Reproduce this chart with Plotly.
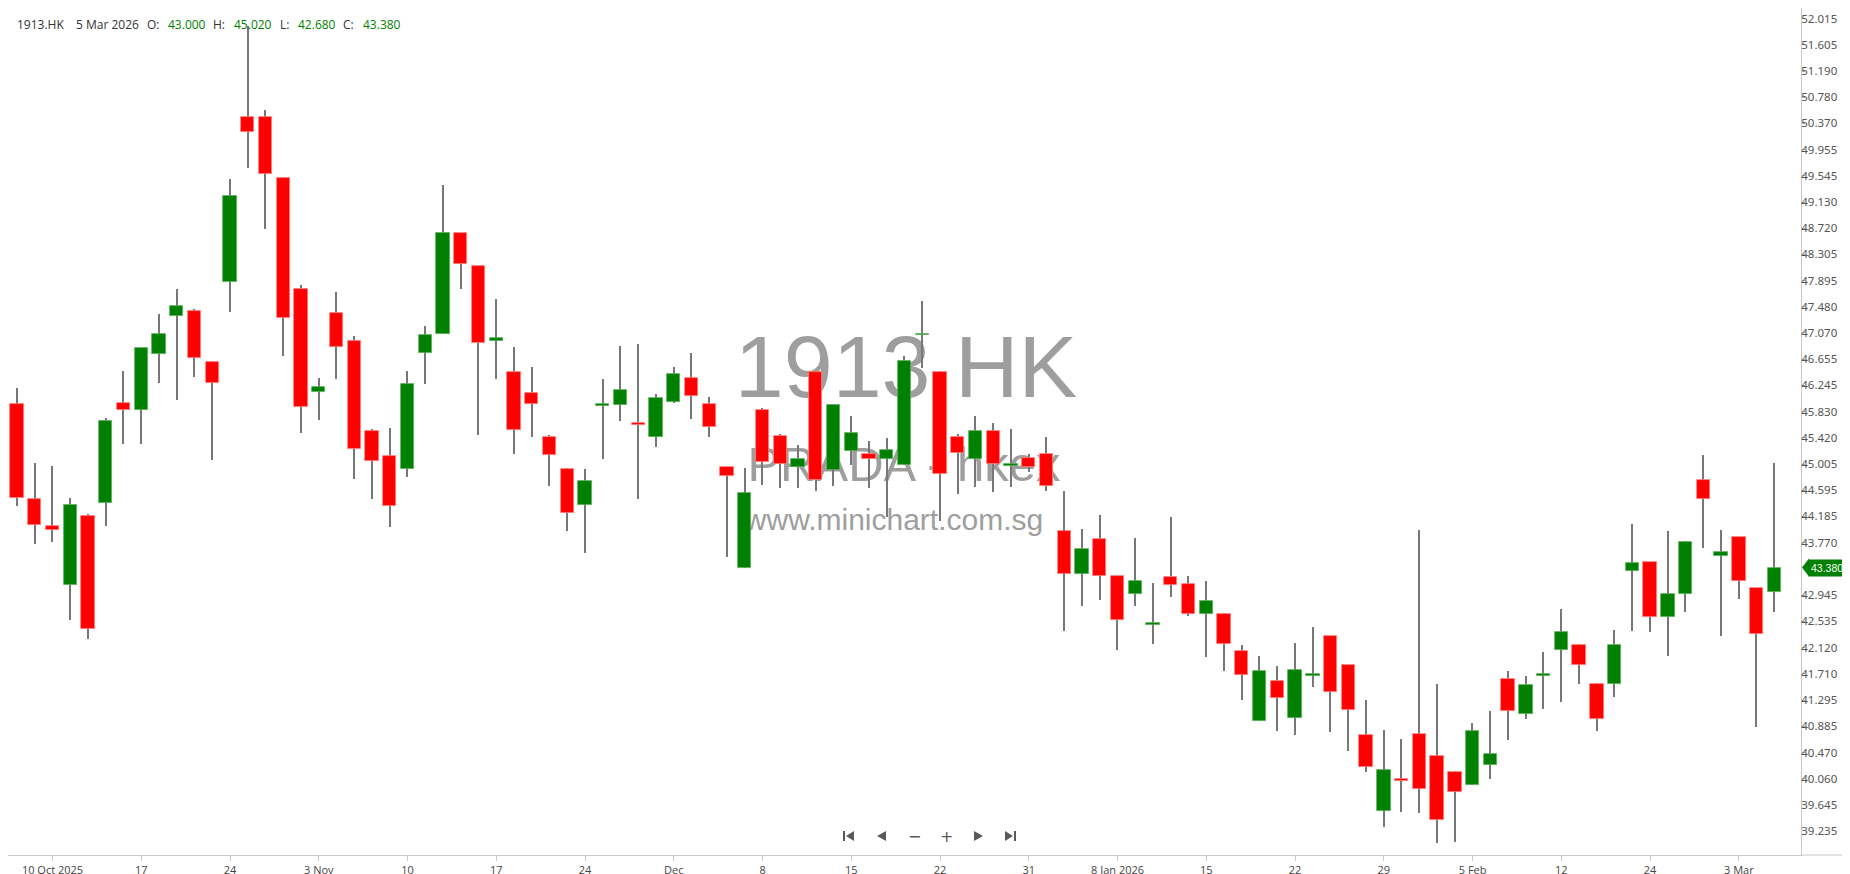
from __future__ import annotations

from datetime import date

import plotly.graph_objects as go


BG = "#ffffff"
TEXT = "#333333"
MUTED = "#555555"
AXIS = "#c8c8c8"
UP = "#008000"
DOWN = "#ff0000"
UP_EDGE = "#5fae5f"
DOWN_EDGE = "#ff8080"
WICK = "#777777"
MARK = "#9e9e9e"
ICON = "#5a5a5a"
FONT = "Open Sans"

W, H = 1850, 874
PLOT_W, PLOT_H = 1793, 847

# trading days shown (HKEX), by month
OCT_2025 = [8, 9, 10, 13, 14, 15, 16, 17, 20, 21, 22, 23, 24, 27, 28, 30, 31]
NOV_2025 = [3, 4, 5, 6, 7, 10, 11, 12, 13, 14, 17, 18, 19, 20, 21, 24, 25, 26, 27, 28]
DEC_2025 = [1, 2, 3, 4, 5, 8, 9, 10, 11, 12, 15, 16, 17, 18, 19, 22, 23, 24, 29, 30, 31]
JAN_2026 = [2, 5, 6, 7, 8, 9, 12, 13, 14, 15, 16, 19, 20, 21, 22, 23, 26, 27, 28, 29, 30]
FEB_2026 = [2, 3, 4, 5, 6, 9, 10, 11, 12, 13, 16, 20, 23, 24, 25, 26, 27]
MAR_2026 = [2, 3, 4, 5]

OPEN = [
    45.96, 44.45, 44.04, 43.10, 44.19, 44.40, 45.97, 45.86, 46.74, 47.33,
    47.42, 46.62, 47.87, 50.47, 50.47, 49.50, 47.76, 46.14, 47.38, 46.94,
    45.53, 45.14, 44.93, 46.76, 47.05, 48.64, 48.12, 46.95, 46.45, 46.13,
    45.43, 44.93, 44.37, 45.92, 45.94, 45.64, 45.43, 45.99, 46.36, 45.95,
    44.96, 43.37, 45.86, 45.45, 44.96, 46.46, 44.92, 45.22, 45.16, 45.08,
    44.99, 47.03, 46.46, 45.43, 45.08, 45.52, 44.98, 45.11, 45.17, 43.96,
    43.27, 43.83, 43.24, 42.97, 42.48, 43.23, 43.12, 42.65, 42.65, 42.06,
    40.96, 41.59, 41.02, 41.68, 42.30, 41.84, 40.74, 39.55, 40.04, 40.76,
    40.41, 40.17, 39.96, 40.28, 41.63, 41.07, 41.68, 42.09, 42.16, 41.55,
    41.55, 43.32, 43.46, 42.60, 42.97, 44.75, 43.56, 43.86, 43.05, 43.00,
]
HIGH = [
    46.21, 45.03, 44.98, 44.47, 44.22, 45.73, 46.47, 46.84, 47.37, 47.76,
    47.44, 46.63, 49.49, 51.90, 50.57, 49.53, 47.83, 46.36, 47.71, 47.02,
    45.56, 45.58, 46.47, 47.18, 49.40, 48.65, 48.13, 47.61, 46.85, 46.53,
    45.46, 44.95, 44.93, 46.35, 46.86, 46.89, 46.11, 46.53, 46.75, 46.07,
    44.96, 44.95, 45.89, 45.48, 45.30, 46.47, 45.94, 45.77, 45.37, 45.42,
    46.70, 47.57, 46.47, 45.48, 45.76, 45.66, 45.56, 45.17, 45.44, 44.58,
    43.98, 44.20, 43.25, 43.85, 43.14, 44.18, 43.24, 43.16, 42.66, 42.16,
    41.98, 41.83, 42.20, 42.45, 42.31, 41.85, 41.29, 40.82, 40.68, 43.97,
    41.55, 40.18, 40.94, 41.12, 41.75, 41.67, 42.05, 42.73, 42.17, 41.56,
    42.39, 44.06, 43.47, 43.95, 43.79, 45.15, 43.97, 43.86, 43.06, 45.02,
]
LOW = [
    44.35, 43.75, 43.78, 42.55, 42.26, 44.03, 45.32, 45.32, 46.28, 46.02,
    46.38, 45.07, 47.40, 49.67, 48.70, 46.70, 45.49, 45.70, 46.35, 44.78,
    44.45, 44.02, 44.80, 46.26, 47.05, 47.76, 45.46, 46.35, 45.17, 45.44,
    44.66, 43.95, 43.61, 45.09, 45.69, 44.46, 45.27, 45.97, 45.72, 45.43,
    43.54, 43.37, 44.68, 44.63, 44.63, 44.58, 44.66, 44.99, 44.63, 44.18,
    44.99, 46.52, 44.11, 44.53, 44.64, 44.57, 44.64, 44.89, 44.58, 42.38,
    42.77, 42.87, 42.09, 42.77, 42.18, 42.91, 42.61, 41.97, 41.75, 41.30,
    40.96, 40.80, 40.75, 41.50, 40.79, 40.49, 40.16, 39.29, 39.53, 39.51,
    39.04, 39.06, 39.96, 40.06, 40.67, 40.99, 41.16, 41.26, 41.55, 40.80,
    41.35, 42.38, 42.37, 41.98, 42.68, 43.68, 42.30, 42.89, 40.87, 42.68,
]
CLOSE = [
    44.47, 44.05, 43.97, 44.36, 42.41, 45.68, 45.86, 46.84, 47.05, 47.49,
    46.67, 46.28, 49.23, 50.23, 49.57, 47.30, 45.91, 46.22, 46.85, 45.25,
    45.05, 44.34, 46.27, 47.03, 48.64, 48.15, 46.91, 46.99, 45.55, 45.95,
    45.15, 44.23, 44.74, 45.94, 46.17, 45.62, 46.05, 46.42, 46.08, 45.59,
    44.82, 44.55, 45.04, 45.01, 45.09, 44.76, 45.94, 45.50, 45.08, 45.23,
    46.63, 47.05, 44.85, 45.18, 45.52, 45.01, 45.00, 44.96, 44.66, 43.27,
    43.67, 43.24, 42.56, 43.16, 42.50, 43.11, 42.65, 42.85, 42.17, 41.69,
    41.75, 41.32, 41.76, 41.70, 41.42, 41.14, 40.24, 40.19, 40.02, 39.89,
    39.41, 39.85, 40.80, 40.44, 41.12, 41.53, 41.70, 42.36, 41.85, 41.00,
    42.16, 43.45, 42.60, 42.96, 43.78, 44.46, 43.63, 43.16, 42.34, 43.38,
]

X_TICK_LABELS = [
    "10 Oct 2025", "17", "24", "3 Nov", "10", "17", "24", "Dec", "8", "15",
    "22", "31", "8 Jan 2026", "15", "22", "29", "5 Feb", "12", "24", "3 Mar",
]
Y_TICKS = [
    52.015, 51.605, 51.190, 50.780, 50.370, 49.955, 49.545, 49.130, 48.720,
    48.305, 47.895, 47.480, 47.070, 46.655, 46.245, 45.830, 45.420, 45.005,
    44.595, 44.185, 43.770, 42.945, 42.535, 42.120, 41.710, 41.295, 40.885,
    40.470, 40.060, 39.645, 39.235,
]
Y_RANGE = [38.857, 52.182]


def _px(x):
    return x / PLOT_W


def _py(y):
    return 1 - y / PLOT_H


def _dates():
    out = []
    for y, m, days in [
        (2025, 10, OCT_2025), (2025, 11, NOV_2025), (2025, 12, DEC_2025),
        (2026, 1, JAN_2026), (2026, 2, FEB_2026), (2026, 3, MAR_2026),
    ]:
        out += [date(y, m, d).isoformat() for d in days]
    return out


def _watermark(fig, text, cx, cy, size):
    fig.add_shape(
        type="rect", xref="paper", yref="paper",
        x0=_px(cx - 200), x1=_px(cx + 200), y0=_py(cy + 20), y1=_py(cy - 20),
        line_width=0, fillcolor="rgba(0,0,0,0)", layer="below",
        label=dict(text=text, textposition="middle center",
                   font=dict(family="Liberation Sans", size=size, color=MARK)),
    )


def _icon(fig, pts):
    path = "M " + " L ".join(f"{_px(a)},{_py(b)}" for a, b in pts) + " Z"
    fig.add_shape(type="path", xref="paper", yref="paper", path=path,
                  fillcolor=ICON, line_width=0)


x = _dates()
up = [c >= o for o, c in zip(OPEN, CLOSE)]
body_base = [min(o, c) for o, c in zip(OPEN, CLOSE)]
body_h = [max(abs(c - o), 0.03) for o, c in zip(OPEN, CLOSE)]

fig = go.Figure()

# wicks, drawn as thin bars under the bodies
fig.add_trace(go.Bar(
    x=x, y=[h - l for h, l in zip(HIGH, LOW)], base=LOW, width=0.085,
    marker=dict(color=WICK, line_width=0), hoverinfo="skip", showlegend=False,
))
fig.add_trace(go.Bar(
    x=x, y=body_h, base=body_base, width=0.75,
    marker=dict(
        color=[UP if u else DOWN for u in up],
        line=dict(color=[UP_EDGE if u else DOWN_EDGE for u in up], width=0.8),
    ),
    customdata=list(zip(OPEN, HIGH, LOW, CLOSE)),
    hovertemplate="%{x}<br>O %{customdata[0]:.3f} H %{customdata[1]:.3f}"
                  "<br>L %{customdata[2]:.3f} C %{customdata[3]:.3f}<extra></extra>",
    showlegend=False,
))

_watermark(fig, "1913 HK", 898, 350, 88)
_watermark(fig, "PRADA - hkex", 896, 451, 49)
_watermark(fig, "www.minichart.com.sg", 886, 508, 30)

fig.update_layout(
    template=None,
    width=W, height=H,
    paper_bgcolor=BG, plot_bgcolor=BG,
    font=dict(family=FONT, color=MUTED, size=11),
    margin=dict(l=0, r=W - PLOT_W, t=0, b=H - PLOT_H),
    barmode="overlay", bargap=0,
    showlegend=False,
)
fig.update_xaxes(
    type="category", range=[-0.507, 100.5],
    tickvals=[x[i] for i in range(2, len(x), 5)], ticktext=X_TICK_LABELS,
    ticks="outside", ticklen=5, tickcolor=AXIS, tickfont=dict(size=11, color="#444"),
    showline=True, linecolor=AXIS, linewidth=1, showgrid=False, zeroline=False,
)
fig.update_yaxes(
    side="right", range=Y_RANGE,
    tickvals=Y_TICKS, ticktext=[f"{v:.3f}" for v in Y_TICKS],
    ticks="outside", ticklen=3, tickcolor="#aaaaaa", ticklabelstandoff=-6,
    tickfont=dict(family="Noto Sans", size=11.5, color=MUTED),
    showline=True, linecolor=AXIS, linewidth=1, showgrid=False, zeroline=False,
)

# axis baseline continues under the price scale
fig.add_shape(type="line", xref="paper", yref="paper", x0=1, x1=W / PLOT_W, y0=0, y1=0,
              line=dict(color=AXIS, width=1))

# last price tag
last = CLOSE[-1]
half = 9 / (PLOT_H / (Y_RANGE[1] - Y_RANGE[0]))
fig.add_shape(
    type="path", xref="paper", yref="y",
    path=f"M {_px(1794)},{last} L {_px(1801)},{last + half} L {_px(1801)},{last - half} Z",
    fillcolor=UP, line_width=0,
)
fig.add_annotation(
    xref="paper", yref="y", x=_px(1800), y=last, xanchor="left", yanchor="middle",
    text=f"{last:.3f}", showarrow=False, bgcolor=UP, borderpad=2,
    font=dict(family="Liberation Sans", size=10.5, color="#ffffff"),
)

# header line
header = [
    ("1913.HK", 7, TEXT), ("5 Mar 2026", 66, TEXT),
    ("O:", 137, TEXT), (f"{OPEN[-1]:.3f}", 158, UP),
    ("H:", 203, TEXT), (f"{HIGH[-1]:.3f}", 224, UP),
    ("L:", 270, TEXT), (f"{LOW[-1]:.3f}", 288, UP),
    ("C:", 333, TEXT), (f"{CLOSE[-1]:.3f}", 353, UP),
]
for txt, hx, col in header:
    fig.add_annotation(
        xref="paper", yref="paper", x=_px(hx), y=_py(17), xanchor="left", yanchor="middle",
        text=txt, showarrow=False, font=dict(family=FONT, size=12, color=col),
    )

# navigation buttons
ny = 828
_icon(fig, [(835, ny - 5), (837, ny - 5), (837, ny + 5), (835, ny + 5)])
_icon(fig, [(838, ny), (846, ny - 5), (846, ny + 5)])
_icon(fig, [(869, ny), (878, ny - 5), (878, ny + 5)])
_icon(fig, [(975, ny), (966, ny - 5), (966, ny + 5)])
_icon(fig, [(1005, ny), (997, ny - 5), (997, ny + 5)])
_icon(fig, [(1006, ny - 5), (1008, ny - 5), (1008, ny + 5), (1006, ny + 5)])
for sym, nx in [("−", 906), ("+", 938)]:
    fig.add_annotation(
        xref="paper", yref="paper", x=_px(nx), y=_py(ny), xanchor="center", yanchor="middle",
        text=sym, showarrow=False, font=dict(family="DejaVu Sans", size=16, color=ICON),
    )

fig.write_html("out.html")
